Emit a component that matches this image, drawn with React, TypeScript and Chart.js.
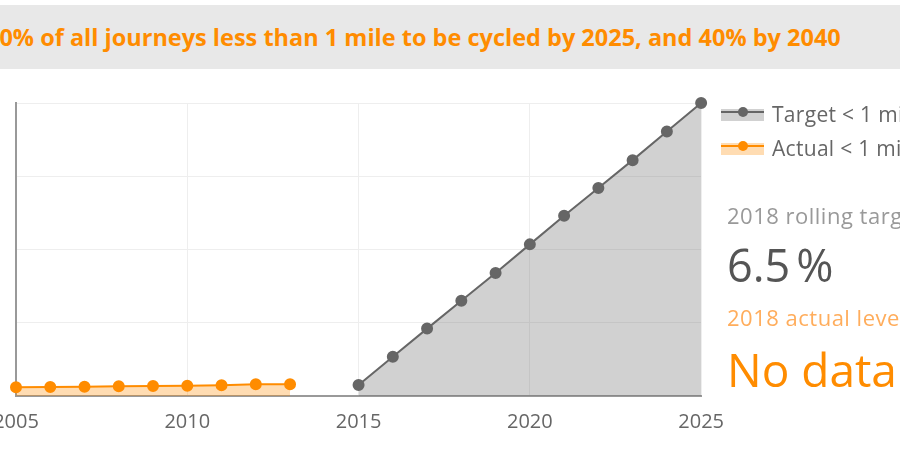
import { useEffect, useRef } from "react";
import { Chart, registerables } from "chart.js";

Chart.register(...registerables);

const actualYears = [2005, 2006, 2007, 2008, 2009, 2010, 2011, 2012, 2013];
const actualValues = [0.59, 0.61, 0.63, 0.66, 0.68, 0.7, 0.73, 0.8, 0.8];

const targetYears = [2015, 2016, 2017, 2018, 2019, 2020, 2021, 2022, 2023, 2024, 2025];
const targetValues = [0.75, 2.68, 4.6, 6.5, 8.4, 10.35, 12.3, 14.2, 16.1, 18.05, 20];

const titleText = "20% of all journeys less than 1 mile to be cycled by 2025, and 40% by 2040";
const legendLabels = ["Target < 1 mile", "Actual < 1 mile"];

const FONT = "'Open Sans', sans-serif";
const GREY = "#666666";
const ORANGE = "#ff8c00";

function LegendItem({ label, color, fill }: { label: string; color: string; fill: string }) {
  return (
    <div style={{ display: "flex", alignItems: "center", height: 34 }}>
      <div style={{ position: "relative", width: 43, height: 14, marginRight: 8 }}>
        <div style={{ position: "absolute", left: 0, right: 0, top: 2, bottom: 0, background: fill }} />
        <div style={{ position: "absolute", left: 0, right: 0, top: 4, height: 2, background: color }} />
        <div
          style={{
            position: "absolute",
            left: 17,
            top: 0,
            width: 10,
            height: 10,
            borderRadius: "50%",
            background: color,
          }}
        />
      </div>
      <span style={{ fontSize: 21, letterSpacing: 0.3, color: GREY, whiteSpace: "nowrap" }}>{label}</span>
    </div>
  );
}

export default function App() {
  const chartRef = useRef<HTMLCanvasElement>(null);
  const chartInstance = useRef<Chart | null>(null);

  useEffect(() => {
    if (!chartRef.current) return;
    if (chartInstance.current) chartInstance.current.destroy();
    const ctx = chartRef.current.getContext("2d");
    if (!ctx) return;

    chartInstance.current = new Chart(ctx, {
      type: "line",
      data: {
        datasets: [
          {
            label: legendLabels[0],
            data: targetYears.map((x, i) => ({ x, y: targetValues[i] })),
            borderColor: GREY,
            backgroundColor: "rgba(102,102,102,0.3)",
            pointBackgroundColor: GREY,
            pointBorderColor: GREY,
            pointRadius: 5,
            borderWidth: 2,
            fill: "origin",
            clip: false,
          },
          {
            label: legendLabels[1],
            data: actualYears.map((x, i) => ({ x, y: actualValues[i] })),
            borderColor: ORANGE,
            backgroundColor: "rgba(255,140,0,0.3)",
            pointBackgroundColor: ORANGE,
            pointBorderColor: ORANGE,
            pointRadius: 5,
            borderWidth: 2,
            fill: "origin",
            clip: false,
          },
        ],
      },
      options: {
        responsive: true,
        maintainAspectRatio: false,
        animation: false,
        layout: { padding: { top: 10, right: 30, left: 0, bottom: 0 } },
        plugins: {
          legend: { display: false },
          tooltip: { enabled: false },
        },
        scales: {
          x: {
            type: "linear",
            min: 2005,
            max: 2025,
            afterFit: (axis: any) => {
              axis.height = 50;
            },
            ticks: {
              stepSize: 5,
              padding: 14,
              color: GREY,
              font: { family: FONT, size: 20 },
              callback: (v: any) => String(v),
            },
            grid: { color: "#eeeeee", drawTicks: false },
            border: { color: "#999999", width: 2 },
          },
          y: {
            min: 0,
            max: 20,
            afterFit: (axis: any) => {
              axis.width = 60;
            },
            ticks: { stepSize: 5, display: false },
            grid: { color: "#eeeeee", drawTicks: false },
            border: { color: "#999999", width: 2 },
          },
        },
      },
    });

    return () => {
      if (chartInstance.current) {
        chartInstance.current.destroy();
        chartInstance.current = null;
      }
    };
  }, []);

  return (
    <div
      style={{
        position: "fixed",
        left: 0,
        top: 0,
        width: 900,
        height: 450,
        overflow: "hidden",
        background: "#ffffff",
        fontFamily: FONT,
      }}
    >
      <div
        style={{
          position: "absolute",
          left: 0,
          top: 5,
          width: 900,
          height: 64,
          background: "#e8e8e8",
        }}
      >
        <div
          style={{
            position: "absolute",
            left: -14,
            top: 0,
            lineHeight: "64px",
            fontSize: 23.5,
            fontWeight: 700,
            color: ORANGE,
            whiteSpace: "nowrap",
          }}
        >
          {titleText}
        </div>
      </div>

      <div style={{ position: "absolute", left: -44, top: 93, width: 782, height: 353 }}>
        <canvas ref={chartRef} />
      </div>

      <div style={{ position: "absolute", left: 721, top: 97 }}>
        <LegendItem label={legendLabels[0]} color={GREY} fill="rgba(102,102,102,0.3)" />
        <LegendItem label={legendLabels[1]} color={ORANGE} fill="rgba(255,140,0,0.3)" />
      </div>

      <div style={{ position: "absolute", left: 727, top: 197, whiteSpace: "nowrap" }}>
        <div style={{ fontSize: 22, letterSpacing: 0.5, color: "#999999", lineHeight: "36px" }}>
          2018 rolling target
        </div>
        <div style={{ fontSize: 45, color: "#555555", lineHeight: "64px" }}>
          6.5<span style={{ marginLeft: 6 }}>%</span>
        </div>
        <div style={{ fontSize: 22, letterSpacing: 0.5, color: "#ffad5c", lineHeight: "40px" }}>
          2018 actual level
        </div>
        <div style={{ fontSize: 46, color: ORANGE, lineHeight: "64px" }}>No data</div>
      </div>
    </div>
  );
}
